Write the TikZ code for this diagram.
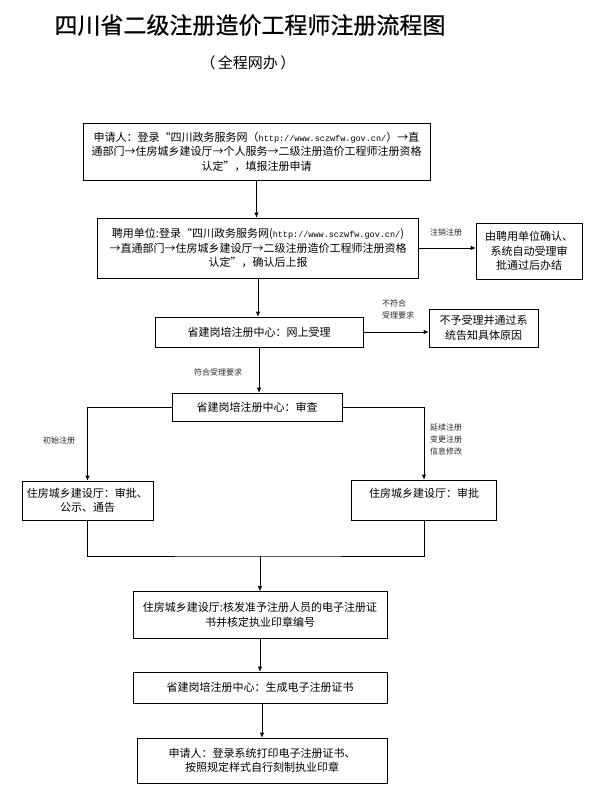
\documentclass[tikz,border=0pt]{standalone}
\usepackage{fontspec}
\setmainfont{Noto Sans CJK SC}
\newfontfamily\urlfont{Liberation Mono}
\newfontfamily\titlefont[FakeBold=0.6]{Noto Sans CJK SC}
\usetikzlibrary{arrows.meta}

\tikzset{
  box/.style={draw, line width=0.7pt, align=center, inner sep=2pt,
    font=\fontsize{11}{14.5}\selectfont},
  flow/.style={line width=0.7pt, -{Latex[length=5pt,width=4.5pt]}},
  link/.style={line width=0.7pt},
  tag/.style={font=\fontsize{8}{12}\selectfont, text=black!85, inner sep=0pt}
}
\newcommand{\siteurl}{{\urlfont\fontsize{8.5}{14.5}\selectfont http://www.sczwfw.gov.cn/}}

\begin{document}
\begin{tikzpicture}[x=1pt,y=-1pt]
  \useasboundingbox (0,0) rectangle (596,803);
  % Titles
  \node (title) at (250,25) {\titlefont\fontsize{23}{26}\selectfont 四川省二级注册造价工程师注册流程图};
  \node (subtitle) at (248,63) {\fontsize{15}{18}\selectfont （\,全程网办\,）};
  % Application
  \node[box, minimum width=347, minimum height=57] (apply) at (256.5,151.5)
    {申请人：登录“四川政务服务网（\siteurl）→直\\
     通部门→住房城乡建设厅→个人服务→二级注册造价工程师注册资格\\
     认定”，填报注册申请};
  \node[box, minimum width=321, minimum height=60] (employer) at (258,248)
    {聘用单位:登录“四川政务服务网(\siteurl)\\
     →直通部门→住房城乡建设厅→二级注册造价工程师注册资格\\
     认定”，确认后上报};
  \node[box, minimum width=106, minimum height=56] (cancelbox) at (529,251)
    {由聘用单位确认、\\系统自动受理审\\批通过后办结};
  % Acceptance
  \node[box, minimum width=208, minimum height=30] (accept) at (259,332)
    {省建岗培注册中心：网上受理};
  \node[box, minimum width=109, minimum height=38] (reject) at (483.5,328)
    {不予受理并通过系\\统告知具体原因};
  % Review
  \node[box, minimum width=170, minimum height=28] (review) at (257,407)
    {省建岗培注册中心：审查};
  \node[box, minimum width=131, minimum height=39] (firstok) at (87.5,500.5)
    {住房城乡建设厅：审批、\\公示、通告};
  \node[box, minimum width=145, minimum height=40] (otherok) at (424,500)
    {住房城乡建设厅：审批\\\mbox{}};
  % Certificate
  \node[box, minimum width=254, minimum height=47] (issue) at (260,615)
    {住房城乡建设厅:核发准予注册人员的电子注册证\\书并核定执业印章编号};
  \node[box, minimum width=254, minimum height=31] (cert) at (260,687.5)
    {省建岗培注册中心：生成电子注册证书};
  \node[box, minimum width=250, minimum height=45] (print) at (262,760.5)
    {申请人：登录系统打印电子注册证书、\\按照规定样式自行刻制执业印章};
  % Branch labels
  \node[tag] (cancellbl) at (446,232) {注销注册};
  \node[tag, align=left] (rejectlbl) at (398,309) {不符合\\受理要求};
  \node[tag] (acceptlbl) at (218,372) {符合受理要求};
  \node[tag] (firstlbl) at (59,440) {初始注册};
  \node[tag, align=left, anchor=west] (otherlbl) at (430,439) {延续注册\\变更注册\\信息修改};
  % Connectors
  \draw[flow] (apply.south) -- (apply.south |- employer.north);
  \draw[flow] (employer.east) -- (employer.east -| cancelbox.west);
  \draw[flow] (employer.south) -- (employer.south |- accept.north);
  \draw[flow] (accept.east) -- (accept.east -| reject.west);
  \draw[flow] (accept.south) -- (accept.south |- review.north);
  \draw[flow] (review.west) -| (firstok.north);
  \draw[flow] (review.east) -| (otherok.north);
  \coordinate (merge) at (260,556);
  \draw[link] (firstok.south) |- (merge) -| (otherok.south);
  \draw[flow] (merge) -- (issue.north);
  \draw[flow] (issue.south) -- (issue.south |- cert.north);
  \draw[flow] (cert.south -| print.north) -- (print.north);
\end{tikzpicture}
\end{document}
